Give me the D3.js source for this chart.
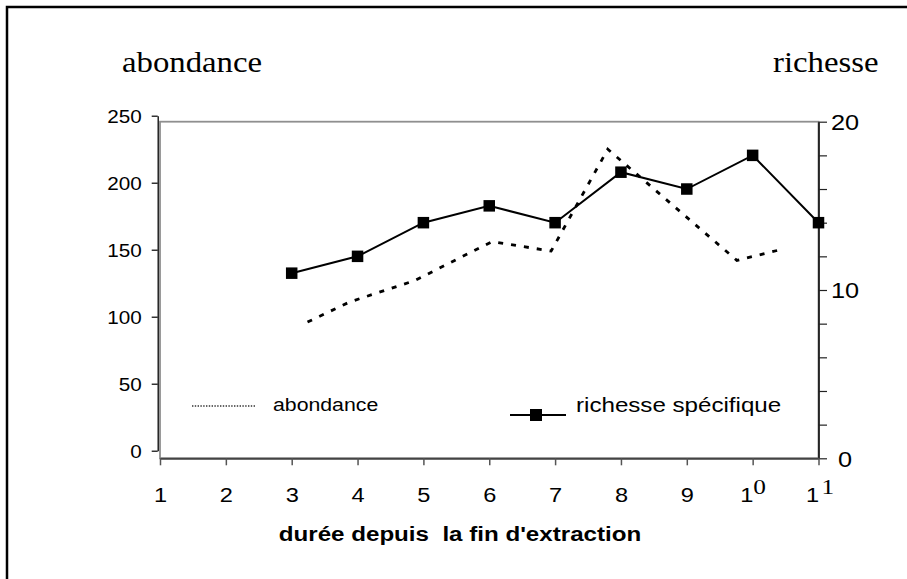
<!DOCTYPE html>
<html><head><meta charset="utf-8">
<script src="https://cdn.jsdelivr.net/npm/d3@7"></script>
<style>
html,body{margin:0;padding:0;background:#fff;}
svg{display:block;}
text{fill:#000;}
</style></head><body>
<svg id="chart" width="907" height="579"></svg>
<script>
// durée (années) depuis la fin d'extraction
const categories = [1, 2, 3, 4, 5, 6, 7, 8, 9, 10, 11];
const xTickLabels = ["1", "2", "3", "4", "5", "6", "7", "8", "9", "1", "1"];
const xTickSuffix = ["", "", "", "", "", "", "", "", "", "0", "1"];

// richesse spécifique (axe secondaire)
const richesseX = [3, 4, 5, 6, 7, 8, 9, 10, 11];
const richesse = [11, 12, 14, 15, 14, 17, 16, 18, 14];

// abondance (axe principal)
const abondanceX = [3.24, 3.88, 4.87, 6.04, 6.94, 7.80, 9.76, 10.42];
const abondance = [96, 111, 127, 156, 149, 225, 142, 150];

const leftTicks = [0, 50, 100, 150, 200, 250];
const rightTicks = [0, 2, 4, 6, 8, 10, 12, 14, 16, 18, 20];
const rightLabels = [0, 10, 20];

const SANS = "'Liberation Sans', Arial, Helvetica, sans-serif";
const SERIF = "'Liberation Serif', 'Times New Roman', serif";
const SX = 1.15; // horizontal stretch of the lettering

const svg = d3.select("#chart");

const x = d3.scaleLinear().domain([1, 11]).range([160, 818.5]);
const yL = d3.scaleLinear().domain([0, 250]).range([450.7, 115.7]);
const yR = d3.scaleLinear().domain([0, 20]).range([458.3, 121.7]);

function label(g, px, py, str, size, family, weight, anchor) {
  return g.append("text")
    .attr("transform", `translate(${px},${py}) scale(${SX},1)`)
    .attr("font-family", family)
    .attr("font-size", size)
    .attr("font-weight", weight || "normal")
    .attr("text-anchor", anchor || "start")
    .style("white-space", "pre")
    .text(str);
}

// outer frame
svg.append("rect")
  .attr("x", 7).attr("y", 7).attr("width", 960).attr("height", 640)
  .attr("fill", "none").attr("stroke", "#000").attr("stroke-width", 2.5);

// axis titles
label(svg, 122, 72, "abondance", 28.5, SERIF);
label(svg, 773, 72, "richesse", 28.5, SERIF);

// plot area border
svg.append("rect")
  .attr("x", x(1)).attr("y", yR(20))
  .attr("width", x(11) - x(1)).attr("height", yR(0) - yR(20))
  .attr("fill", "none").attr("stroke", "#8f8f8f").attr("stroke-width", 1.8);

// left axis
const gL = svg.append("g").attr("transform", "translate(157.7,0)")
  .call(d3.axisLeft(yL).tickValues(leftTicks).tickSize(6).tickSizeOuter(0));
gL.select(".domain").attr("stroke", "#000").attr("stroke-width", 1.3);
gL.selectAll(".tick line").attr("stroke", "#000").attr("stroke-width", 1.2);
gL.selectAll(".tick text")
  .attr("x", null).attr("dy", "0.36em")
  .attr("transform", `translate(-16,0) scale(${SX},1)`)
  .attr("font-family", SANS).attr("font-size", 18).attr("fill", "#000");

// right axis
const gR = svg.append("g").attr("transform", `translate(${x(11)},0)`)
  .call(d3.axisRight(yR).tickValues(rightTicks).tickSize(8.5).tickSizeOuter(0)
    .tickFormat(d => rightLabels.includes(d) ? d : ""));
gR.select(".domain").attr("stroke", "#000").attr("stroke-width", 1.5);
gR.selectAll(".tick line").attr("stroke", "#222").attr("stroke-width", 1.2);
gR.selectAll(".tick text")
  .attr("x", null).attr("dy", "0.36em")
  .attr("text-anchor", "middle")
  .attr("transform", `translate(26.5,0) scale(${SX},1)`)
  .attr("font-family", SANS).attr("font-size", 22).attr("fill", "#000");

// x axis
const gX = svg.append("g").attr("transform", `translate(0,${yR(0)})`)
  .call(d3.axisBottom(x).tickValues(categories).tickSize(7).tickSizeOuter(0).tickFormat(""));
gX.select(".domain").attr("stroke", "#444").attr("stroke-width", 2);
gX.selectAll(".tick line").attr("stroke", "#555").attr("stroke-width", 1.5);
gX.selectAll(".tick text").remove();
gX.selectAll(".tick").each(function (d, i) {
  const t = d3.select(this).append("text")
    .attr("transform", `translate(${xTickSuffix[i] ? -13 : 0},43.4) scale(${SX},1)`)
    .attr("text-anchor", xTickSuffix[i] ? "start" : "middle")
    .attr("font-family", SANS).attr("font-size", 20.5);
  t.append("tspan").text(xTickLabels[i]);
  if (xTickSuffix[i]) {
    t.append("tspan").attr("dx", i === 10 ? 2 : 0).attr("dy", -8)
      .attr("font-family", SERIF).attr("font-size", 22).text(xTickSuffix[i]);
  }
});

// x axis title
label(svg, 460, 541, "durée depuis  la fin d'extraction", 21, SANS, "bold", "middle");

// abondance series
const lineL = d3.line().x(d => x(d[0])).y(d => yL(d[1]));
svg.append("path")
  .datum(d3.zip(abondanceX, abondance))
  .attr("d", lineL)
  .attr("fill", "none").attr("stroke", "#000")
  .attr("stroke-width", 2.8).attr("stroke-dasharray", "5 8");

// richesse series
const lineR = d3.line().x(d => x(d[0])).y(d => yR(d[1]));
const rData = d3.zip(richesseX, richesse);
svg.append("path")
  .datum(rData)
  .attr("d", lineR)
  .attr("fill", "none").attr("stroke", "#000").attr("stroke-width", 2);
const MS = 11.5;
svg.selectAll("rect.marker").data(rData).join("rect")
  .attr("class", "marker")
  .attr("x", d => x(d[0]) - MS / 2).attr("y", d => yR(d[1]) - MS / 2)
  .attr("width", MS).attr("height", MS).attr("fill", "#000");

// legend
const leg = svg.append("g");
leg.append("line").attr("x1", 192).attr("x2", 255).attr("y1", 406).attr("y2", 406)
  .attr("stroke", "#333").attr("stroke-width", 1.3).attr("stroke-dasharray", "1.4 1.4");
label(leg, 273, 410.5, "abondance", 18.5, SANS);
leg.append("line").attr("x1", 510).attr("x2", 566).attr("y1", 415).attr("y2", 415)
  .attr("stroke", "#000").attr("stroke-width", 2);
leg.append("rect").attr("x", 536 - 6).attr("y", 415 - 6).attr("width", 12).attr("height", 12)
  .attr("fill", "#000");
label(leg, 576, 412, "richesse spécifique", 21, SANS);
</script>
</body></html>
